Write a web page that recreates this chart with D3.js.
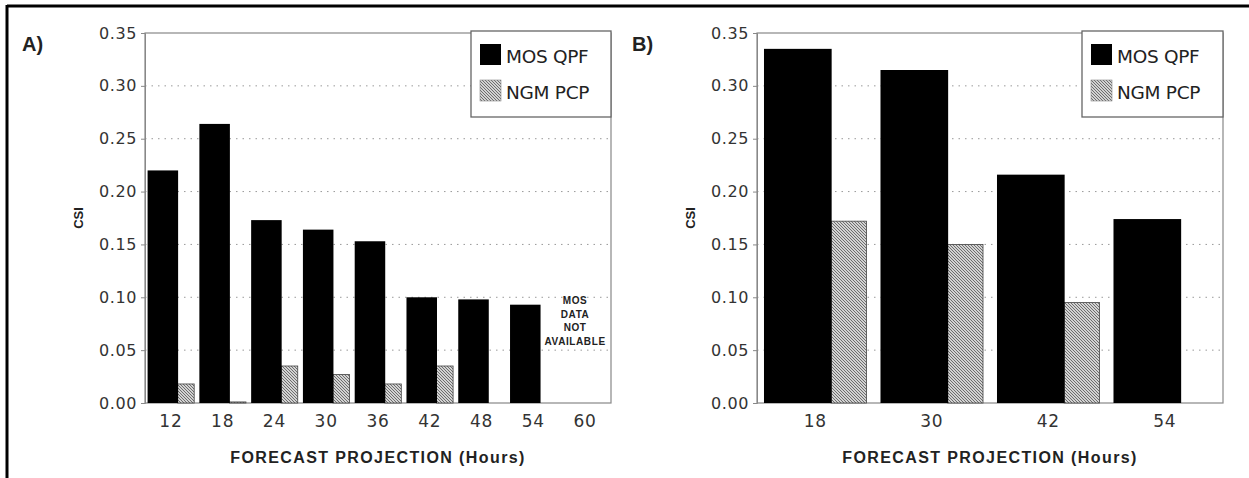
<!DOCTYPE html>
<html><head><meta charset="utf-8">
<script src="https://cdn.jsdelivr.net/npm/d3@7"></script>
<style>body{margin:0;background:#fff}svg{display:block}</style>
</head><body>
<svg id="c" width="1249" height="478"></svg>
<script>
// ---- data ----
const seriesNames = ["MOS QPF", "NGM PCP"];
const catsA = ["12","18","24","30","36","42","48","54","60"];
const mosA  = [0.220,0.264,0.173,0.164,0.153,0.100,0.098,0.093,null];
const ngmA  = [0.018,0.001,0.035,0.027,0.018,0.035,null,null,null];
const catsB = ["18","30","42","54"];
const mosB  = [0.335,0.315,0.216,0.174];
const ngmB  = [0.172,0.150,0.095,null];
const yTicks = [0,0.05,0.10,0.15,0.20,0.25,0.30,0.35];
const panelLabels = ["A)","B)"];
const yTitle = "CSI";
const xTitle = "FORECAST PROJECTION (Hours)";
const noteA = ["MOS","DATA","NOT","AVAILABLE"];

const svg = d3.select("#c");
const defs = svg.append("defs");
const pat = defs.append("pattern").attr("id","hatch").attr("patternUnits","userSpaceOnUse")
  .attr("width",3).attr("height",3);
pat.append("rect").attr("width",3).attr("height",3).attr("fill","#fff");
pat.append("path").attr("d","M-1,2 l2,2 M0,0 l3,3 M2,-1 l2,2")
  .attr("stroke","#666").attr("stroke-width",1.1);

// outer frame
svg.append("line").attr("x1",7).attr("x2",1249).attr("y1",6).attr("y2",6).attr("stroke","#000").attr("stroke-width",3);
svg.append("line").attr("x1",7).attr("x2",7).attr("y1",5).attr("y2",478).attr("stroke","#000").attr("stroke-width",3);

const tickFont = "'DejaVu Sans', sans-serif";
const boldFont = "'Liberation Sans', Arial, sans-serif";

function panel(cfg){
  const {left,right,top,bottom,cats,mos,ngm,pad,mosFrac,label,labelX,csiX,legendX,note} = cfg;
  const g = svg.append("g");
  const y = d3.scaleLinear().domain([0,0.35]).range([bottom,top]);
  const x = d3.scaleBand().domain(cats).range([left,right]).paddingInner(pad).paddingOuter(pad/2);
  const bw = x.bandwidth();
  // grid
  g.selectAll(".grid").data(yTicks.filter(t=>t>0 && t<0.35)).join("line")
    .attr("x1",left).attr("x2",right).attr("y1",d=>y(d)).attr("y2",d=>y(d))
    .attr("stroke","#999").attr("stroke-width",1).attr("stroke-dasharray","1.5,5");
  // frame
  g.append("rect").attr("x",left).attr("y",top).attr("width",right-left).attr("height",bottom-top)
    .attr("fill","none").attr("stroke","#888").attr("stroke-width",1.2);
  // y axis
  const ya = d3.axisLeft(y).tickValues(yTicks).tickFormat(d3.format(".2f")).tickSize(4).tickPadding(4);
  const yg = g.append("g").attr("transform",`translate(${left},0)`).call(ya);
  yg.select(".domain").attr("stroke","#888");
  yg.selectAll(".tick line").attr("stroke","#888");
  yg.selectAll("text").attr("font-family",tickFont).attr("font-size",16).attr("fill","#333")
    .attr("letter-spacing","0.6px");
  // x axis labels
  const xa = d3.axisBottom(x).tickSize(0).tickPadding(12);
  const xg = g.append("g").attr("transform",`translate(0,${bottom})`).call(xa);
  xg.select(".domain").remove();
  xg.selectAll("text").attr("font-family",tickFont).attr("font-size",17).attr("fill","#333").attr("letter-spacing","0.8px");
  const mw = bw*mosFrac, nw = bw - mw;
  // NGM bars (behind)
  g.selectAll(".ngm").data(cats.map((c,i)=>({c,v:ngm[i]})).filter(d=>d.v!=null)).join("rect")
    .attr("x",d=>x(d.c)+mw-0.5).attr("width",nw+0.5)
    .attr("y",d=>y(d.v)).attr("height",d=>y(0)-y(d.v))
    .attr("fill","url(#hatch)").attr("stroke","#444").attr("stroke-width",0.8);
  // MOS bars
  g.selectAll(".mos").data(cats.map((c,i)=>({c,v:mos[i]})).filter(d=>d.v!=null)).join("rect")
    .attr("x",d=>x(d.c)).attr("width",mw)
    .attr("y",d=>y(d.v)).attr("height",d=>y(0)-y(d.v)).attr("fill","#000");
  // legend
  const lw = right-legendX, lh = 86;
  g.append("rect").attr("x",legendX).attr("y",top-2).attr("width",lw).attr("height",lh)
    .attr("fill","#fff").attr("stroke","#666").attr("stroke-width",1.3);
  const fills = ["#000","url(#hatch)"];
  seriesNames.forEach((s,i)=>{
    const ly = top + 11 + i*36;
    g.append("rect").attr("x",legendX+9).attr("y",ly).attr("width",21).attr("height",21)
      .attr("fill",fills[i]).attr("stroke",i?"#888":"none").attr("stroke-width",0.6);
    g.append("text").attr("x",legendX+35).attr("y",ly+19).text(s)
      .attr("font-family",tickFont).attr("font-size",18.5).attr("fill","#222").attr("letter-spacing","-0.3px");
  });
  // panel label
  g.append("text").attr("x",labelX).attr("y",51).text(label)
    .attr("font-family",boldFont).attr("font-weight","bold").attr("font-size",20).attr("fill","#222");
  // y title
  g.append("text").attr("transform",`translate(${csiX},218) rotate(-90)`).attr("text-anchor","middle")
    .attr("dominant-baseline","central").text(yTitle)
    .attr("font-family",boldFont).attr("font-weight","bold").attr("font-size",13).attr("fill","#222");
  // x title
  g.append("text").attr("x",(left+right)/2).attr("y",463).attr("text-anchor","middle").text(xTitle)
    .attr("font-family",boldFont).attr("font-weight","bold").attr("font-size",16)
    .attr("letter-spacing","1.4px").attr("fill","#222");
  if(note){
    const cx = x(note.cat)+bw/2 - 10;
    g.selectAll(".note").data(note.lines).join("text")
      .attr("x",cx).attr("y",(d,i)=>304+i*13.5).attr("text-anchor","middle").text(d=>d)
      .attr("font-family",boldFont).attr("font-weight","bold")
      .attr("font-size",10).attr("letter-spacing","0.6px").attr("fill","#222");
  }
}

panel({left:145,right:611,top:33,bottom:403,cats:catsA,mos:mosA,ngm:ngmA,pad:0.1,mosFrac:0.655,
  label:panelLabels[0],labelX:22,csiX:78,legendX:471,note:{cat:"60",lines:noteA}});
panel({left:757,right:1223,top:33,bottom:403,cats:catsB,mos:mosB,ngm:ngmB,pad:0.12,mosFrac:0.66,
  label:panelLabels[1],labelX:632,csiX:690,legendX:1082,note:null});
</script>
</body></html>
